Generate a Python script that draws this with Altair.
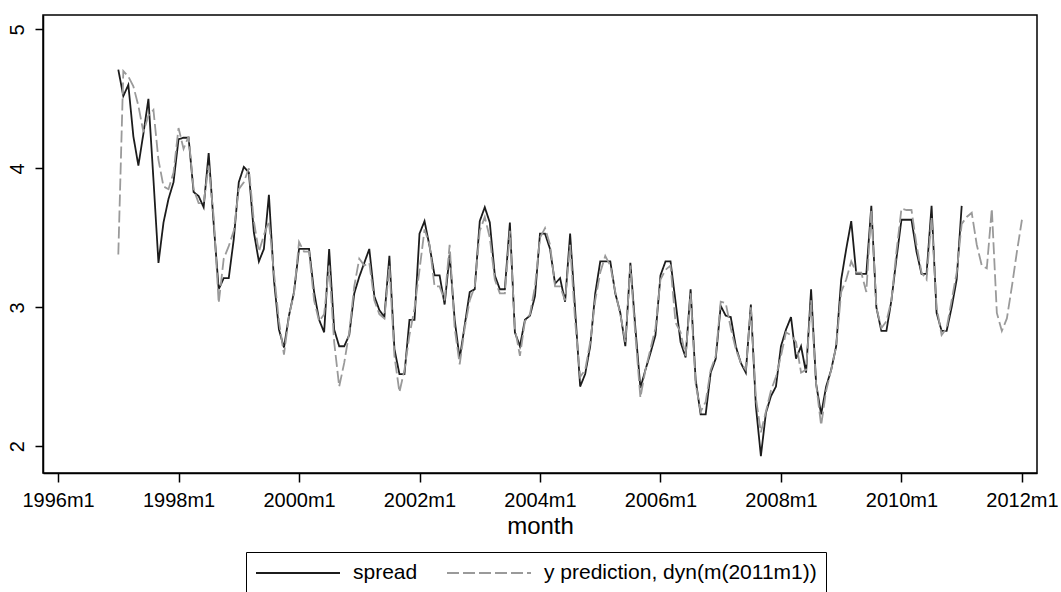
import altair as alt
import pandas as pd

# months counted from 1996m1 (= 0)
spread_start = 12   # 1997m1
pred_start = 12     # 1997m1

spread = [
    4.71, 4.52, 4.60, 4.23, 4.02, 4.25, 4.50, 3.92, 3.32, 3.61, 3.78, 3.90,
    4.21, 4.22, 4.22, 3.83, 3.80, 3.72, 4.11, 3.60, 3.13, 3.21, 3.21, 3.49,
    3.90, 4.01, 3.97, 3.54, 3.33, 3.42, 3.81, 3.20, 2.84, 2.71, 2.94, 3.11,
    3.42, 3.42, 3.42, 3.11, 2.91, 2.82, 3.42, 2.84, 2.72, 2.72, 2.80, 3.10,
    3.22, 3.32, 3.42, 3.08, 2.98, 2.93, 3.37, 2.70, 2.52, 2.52, 2.91, 2.91,
    3.53, 3.62, 3.44, 3.23, 3.23, 3.02, 3.38, 2.91, 2.63, 2.87, 3.11, 3.13,
    3.62, 3.72, 3.61, 3.23, 3.13, 3.13, 3.61, 2.82, 2.72, 2.91, 2.94, 3.08,
    3.53, 3.53, 3.42, 3.17, 3.21, 3.04, 3.53, 2.98, 2.43, 2.52, 2.72, 3.10,
    3.33, 3.33, 3.33, 3.10, 2.96, 2.72, 3.32, 2.85, 2.42, 2.55, 2.67, 2.80,
    3.23, 3.33, 3.33, 3.04, 2.75, 2.64, 3.13, 2.48, 2.23, 2.23, 2.53, 2.63,
    3.01, 2.94, 2.93, 2.72, 2.60, 2.53, 3.02, 2.29, 1.93, 2.24, 2.36, 2.43,
    2.72, 2.84, 2.93, 2.63, 2.72, 2.53, 3.13, 2.45, 2.23, 2.43, 2.55, 2.72,
    3.20, 3.42, 3.62, 3.24, 3.24, 3.24, 3.73, 3.00, 2.83, 2.83, 3.05, 3.35,
    3.63, 3.63, 3.63, 3.40, 3.24, 3.24, 3.73, 2.96, 2.83, 2.83, 3.00, 3.20,
    3.73,
]

prediction = [
    3.38, 4.70, 4.66, 4.59, 4.45, 4.26, 4.38, 4.42, 4.06, 3.87, 3.85, 3.97,
    4.29, 4.14, 4.23, 3.85, 3.75, 3.75, 4.02, 3.65, 3.03, 3.35, 3.44, 3.55,
    3.85, 3.90, 4.00, 3.62, 3.40, 3.52, 3.62, 3.25, 2.90, 2.66, 2.94, 3.10,
    3.47, 3.40, 3.40, 3.05, 2.90, 2.95, 3.30, 2.75, 2.43, 2.60, 2.82, 3.15,
    3.35, 3.30, 3.32, 3.05, 2.95, 2.92, 3.30, 2.65, 2.39, 2.55, 2.80, 2.99,
    3.27, 3.56, 3.45, 3.15, 3.15, 3.05, 3.45, 2.85, 2.59, 2.85, 3.05, 3.15,
    3.55, 3.65, 3.50, 3.20, 3.10, 3.10, 3.55, 2.85, 2.65, 2.90, 2.95, 3.15,
    3.50, 3.57, 3.45, 3.15, 3.15, 3.05, 3.45, 2.90, 2.50, 2.55, 2.75, 3.05,
    3.25, 3.37, 3.30, 3.11, 2.95, 2.75, 3.30, 2.80, 2.35, 2.55, 2.70, 2.85,
    3.20, 3.27, 3.30, 2.89, 2.82, 2.65, 3.10, 2.45, 2.25, 2.32, 2.55, 2.65,
    3.04, 3.03, 2.85, 2.70, 2.60, 2.55, 3.00, 2.35, 2.10, 2.25, 2.40, 2.50,
    2.65, 2.82, 2.80, 2.75, 2.53, 2.55, 3.05, 2.45, 2.15, 2.40, 2.55, 2.72,
    3.11, 3.20, 3.33, 3.25, 3.25, 3.11, 3.70, 3.00, 2.85, 2.90, 3.05, 3.40,
    3.71, 3.70, 3.70, 3.45, 3.25, 3.20, 3.65, 3.00, 2.80, 2.85, 3.05, 3.25,
    3.60, 3.65, 3.68, 3.45, 3.30, 3.28, 3.71, 2.96, 2.83, 2.92, 3.15, 3.40,
    3.63,
]

series_names = ["spread", "y prediction, dyn(m(2011m1))"]
series_colors = ["#1c1c1c", "#9a9a9a"]
series_dashes = [[1, 0], [12, 4]]
x_ticks = [0, 24, 48, 72, 96, 120, 144, 168, 192]
y_ticks = [2, 3, 4, 5]

rows = []
for i, v in enumerate(spread):
    rows.append({"month": spread_start + i, "value": v, "series": series_names[0]})
for i, v in enumerate(prediction):
    rows.append({"month": pred_start + i, "value": v, "series": series_names[1]})
df = pd.DataFrame(rows)

font = "Liberation Sans"

chart = (
    alt.Chart(df)
    .mark_line(strokeWidth=1.8)
    .encode(
        x=alt.X(
            "month:Q",
            scale=alt.Scale(domain=[-3, 195], nice=False, zero=False),
            axis=alt.Axis(
                values=x_ticks,
                labelExpr="toString(1996 + round(datum.value / 12)) + 'm1'",
                title="month",
                grid=False,
                tickSize=9,
                labelPadding=8,
                labelFontSize=20,
                labelFlush=False,
                labelOverlap=False,
                titleFontSize=24,
                titleFontWeight="normal",
                titlePadding=4,
            ),
        ),
        y=alt.Y(
            "value:Q",
            scale=alt.Scale(domain=[1.808, 5.103], nice=False, zero=False),
            axis=alt.Axis(
                values=y_ticks,
                title=None,
                grid=False,
                tickSize=8,
                labelAngle=270,
                labelAlign="center",
                labelBaseline="alphabetic",
                labelPadding=12,
                labelFontSize=20,
            ),
        ),
        color=alt.Color(
            "series:N",
            scale=alt.Scale(domain=series_names, range=series_colors),
            legend=alt.Legend(title=None),
        ),
        strokeDash=alt.StrokeDash(
            "series:N",
            scale=alt.Scale(domain=series_names, range=series_dashes),
            legend=alt.Legend(title=None),
        ),
        order=alt.Order("month:Q"),
    )
    .properties(
        width=994,
        height=458,
        autosize=alt.AutoSizeParams(type="none"),
        padding={"left": 43, "top": 15, "right": 24, "bottom": 119},
        background="white",
    )
    .configure_view(stroke="black", strokeWidth=1.5)
    .configure_axis(
        domainColor="black",
        domainWidth=1.5,
        tickColor="black",
        tickWidth=1.5,
        labelColor="black",
        titleColor="black",
        labelFont=font,
        titleFont=font,
    )
    .configure_legend(
        orient="none",
        legendX=203,
        legendY=537,
        direction="horizontal",
        strokeColor="black",
        fillColor="white",
        padding=9,
        cornerRadius=0,
        symbolType="stroke",
        symbolSize=7056,
        symbolStrokeWidth=1.8,
        clipHeight=24,
        labelFont=font,
        labelFontSize=21,
        labelColor="black",
        labelOffset=12,
        labelLimit=500,
        columnPadding=28,
    )
)

chart.save("out.html", embed_options={"renderer": "svg", "actions": False})
